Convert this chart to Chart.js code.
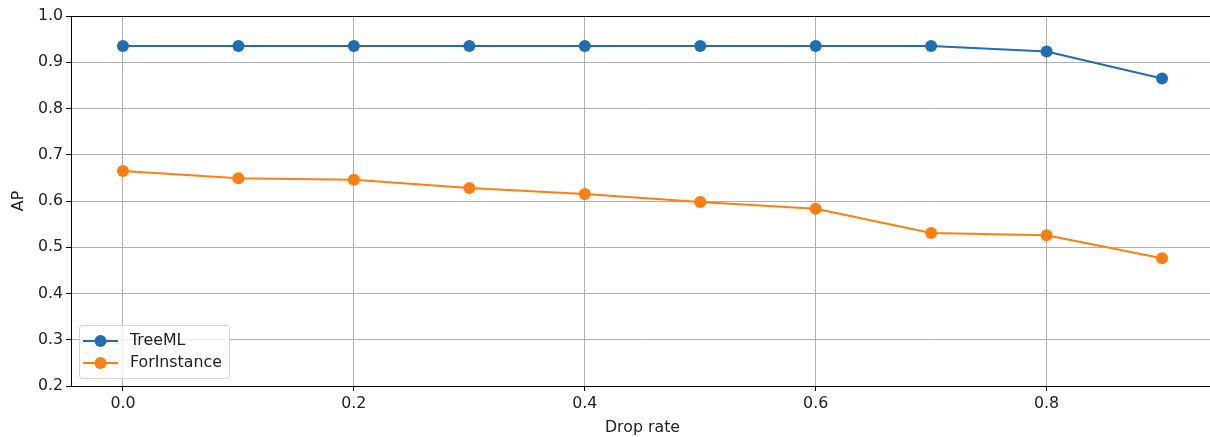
<!DOCTYPE html>
<html>
<head>
<meta charset="utf-8">
<script src="https://cdn.jsdelivr.net/npm/chart.js@4/dist/chart.umd.min.js"></script>
<style>
  html, body { margin: 0; padding: 0; background: #fff; overflow: hidden; }
  #chart { display: block; }
</style>
</head>
<body>
<canvas id="chart" width="1220" height="437"></canvas>
<script>
// Данные графика
const dropRates = [0.0, 0.1, 0.2, 0.3, 0.4, 0.5, 0.6, 0.7, 0.8, 0.9];
const treeML = [0.935, 0.935, 0.935, 0.935, 0.935, 0.935, 0.935, 0.935, 0.923, 0.865];
const forInstance = [0.665, 0.649, 0.646, 0.628, 0.615, 0.598, 0.583, 0.531, 0.526, 0.476];
const xTicks = [0.0, 0.2, 0.4, 0.6, 0.8];
const yTicks = [0.2, 0.3, 0.4, 0.5, 0.6, 0.7, 0.8, 0.9, 1.0];

const BLUE = '#1f6db5';
const ORANGE = '#ff7f0e';
const FONT = { family: '"DejaVu Sans", sans-serif', size: 15.8 };

const toPoints = (ys) => ys.map((y, i) => ({ x: dropRates[i], y }));

// Рамка вокруг области графика (как spines в matplotlib)
const framePlugin = {
  id: 'frame',
  afterDatasetsDraw(chart) {
    const { ctx, chartArea: a } = chart;
    ctx.save();
    ctx.strokeStyle = '#000';
    ctx.lineWidth = 1;
    ctx.strokeRect(Math.round(a.left) + 0.5, Math.round(a.top) + 0.5,
      Math.round(a.right - a.left), Math.round(a.bottom - a.top));
    ctx.restore();
  }
};

// Легенда внутри области графика, снизу слева
const insideLegend = {
  id: 'insideLegend',
  afterDraw(chart) {
    const { ctx, chartArea: a } = chart;
    const x0 = a.left + 8, y0 = a.bottom - 61, w = 150, h = 53;
    ctx.save();
    ctx.fillStyle = 'rgba(255,255,255,0.8)';
    ctx.strokeStyle = '#d6d6d6';
    ctx.lineWidth = 1;
    ctx.beginPath();
    ctx.roundRect(x0 + 0.5, y0 + 0.5, w, h, 3);
    ctx.fill();
    ctx.stroke();
    ctx.font = `${FONT.size}px ${FONT.family}`;
    ctx.textBaseline = 'middle';
    chart.data.datasets.forEach((ds, i) => {
      const yy = y0 + 16 + i * 22;
      ctx.strokeStyle = ds.borderColor;
      ctx.lineWidth = 2;
      ctx.beginPath();
      ctx.moveTo(x0 + 4, yy);
      ctx.lineTo(x0 + 39, yy);
      ctx.stroke();
      ctx.fillStyle = ds.borderColor;
      ctx.beginPath();
      ctx.arc(x0 + 21.5, yy, 6, 0, Math.PI * 2);
      ctx.fill();
      ctx.fillStyle = '#222';
      ctx.fillText(ds.label, x0 + 51, yy);
    });
    ctx.restore();
  }
};

new Chart(document.getElementById('chart'), {
  type: 'line',
  data: {
    datasets: [
      {
        label: 'TreeML',
        data: toPoints(treeML),
        borderColor: BLUE,
        backgroundColor: BLUE,
        borderWidth: 2,
        pointRadius: 6,
        pointHoverRadius: 6,
        pointBorderWidth: 0,
        tension: 0
      },
      {
        label: 'ForInstance',
        data: toPoints(forInstance),
        borderColor: ORANGE,
        backgroundColor: ORANGE,
        borderWidth: 2,
        pointRadius: 6,
        pointHoverRadius: 6,
        pointBorderWidth: 0,
        tension: 0
      }
    ]
  },
  options: {
    responsive: false,
    animation: false,
    devicePixelRatio: 1,
    layout: { padding: { top: 16, right: 0, left: 0, bottom: 0 } },
    plugins: {
      legend: { display: false },
      tooltip: { enabled: false }
    },
    scales: {
      x: {
        type: 'linear',
        min: -0.045,
        max: 0.945,
        afterBuildTicks: (s) => { s.ticks = xTicks.map(v => ({ value: v })); },
        afterFit: (s) => { s.height = 51; },
        ticks: {
          font: FONT,
          color: '#222',
          padding: 3,
          maxRotation: 0,
          callback: (v) => v.toFixed(1)
        },
        grid: { color: '#b0b0b0', lineWidth: 1, tickLength: 5, tickColor: '#000' },
        border: { display: false },
        title: {
          display: true,
          text: 'Drop rate',
          font: FONT,
          color: '#222',
          padding: { top: 0, bottom: 0 }
        }
      },
      y: {
        min: 0.2,
        max: 1.0,
        afterBuildTicks: (s) => { s.ticks = yTicks.map(v => ({ value: v })); },
        afterFit: (s) => { s.width = 71; },
        ticks: {
          font: FONT,
          color: '#222',
          padding: 3,
          callback: (v) => v.toFixed(1)
        },
        grid: { color: '#b0b0b0', lineWidth: 1, tickLength: 5, tickColor: '#000' },
        border: { display: false },
        title: {
          display: true,
          text: 'AP',
          font: FONT,
          color: '#222',
          padding: { top: 9, bottom: 2 }
        }
      }
    }
  },
  plugins: [framePlugin, insideLegend]
});
</script>
</body>
</html>
